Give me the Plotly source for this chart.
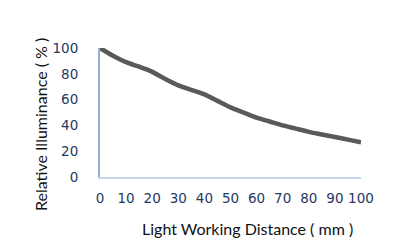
import plotly.graph_objects as go

distance = [0, 5, 10, 15, 20, 25, 30, 35, 40, 45, 50, 55, 60, 65, 70, 75, 80, 85, 90, 95, 100]
illuminance = [100, 94, 89, 85.5, 81.5, 76, 71, 67.5, 64, 59, 54, 50, 46, 43, 40, 37.5, 35, 33, 31, 29, 27]
x_ticks = [0, 10, 20, 30, 40, 50, 60, 70, 80, 90, 100]
y_ticks = [0, 20, 40, 60, 80, 100]

fig = go.Figure()
fig.add_trace(go.Scatter(x=distance, y=illuminance, mode="lines",
                         line=dict(color="#595959", width=4.5, shape="spline", smoothing=0.6),
                         hoverinfo="skip"))

tick_font = dict(family="DejaVu Sans", size=13.5, color="#1f3864")
fig.update_layout(
    width=414, height=250,
    margin=dict(l=92, r=61, t=40, b=81, autoexpand=False),
    paper_bgcolor="white", plot_bgcolor="white",
    showlegend=False,
    xaxis=dict(range=[0, 100], tickvals=x_ticks, ticktext=[str(v) for v in x_ticks],
               showgrid=False, zeroline=False, showline=True, linecolor="#c6d6ec", linewidth=1.5,
               ticks="", tickfont=tick_font, ticklabelstandoff=8),
    yaxis=dict(range=[0, 100], tickvals=y_ticks, ticktext=[str(v) for v in y_ticks],
               showgrid=False, zeroline=False, showline=True, linecolor="#92afd7", linewidth=2,
               ticks="", tickfont=tick_font, ticklabelstandoff=17),
    annotations=[
        dict(text="Light Working Distance ( mm )", xref="paper", yref="paper",
             x=(247 - 100) / 261, y=-(228 - 177) / 129, xanchor="center", yanchor="middle",
             showarrow=False, font=dict(family="Lato", size=16, color="#111111")),
        dict(text="Relative Illuminance ( % )", xref="paper", yref="paper",
             x=-(100 - 40) / 261, y=(177 - 125) / 129, xanchor="center", yanchor="middle",
             textangle=-90, showarrow=False, font=dict(family="Lato", size=16, color="#111111")),
    ],
)

fig.write_html("out.html")
